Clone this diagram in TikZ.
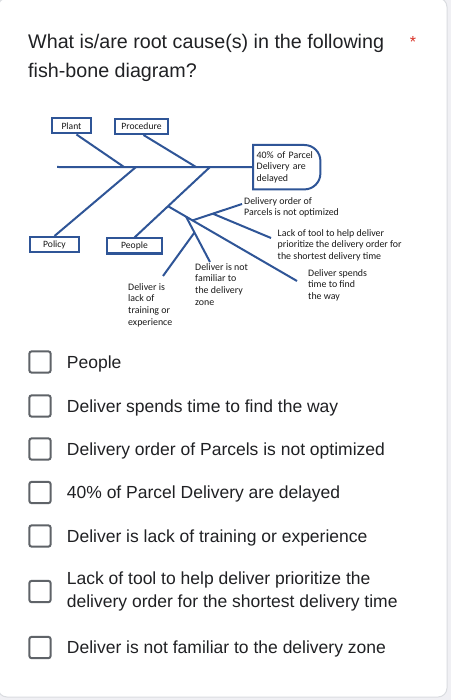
\documentclass[tikz,border=0pt]{standalone}
\usepackage{fontspec}
\setmainfont{Liberation Sans}
\newfontfamily\calibri{Carlito}
\usetikzlibrary{positioning,calc}
\definecolor{fishblue}{RGB}{47,85,151}
\definecolor{inkgray}{RGB}{25,25,25}
\definecolor{formtext}{RGB}{32,33,36}
\definecolor{boxgray}{RGB}{95,99,104}
\definecolor{redstar}{RGB}{217,48,37}
\definecolor{pagebg}{RGB}{240,240,244}
\definecolor{cardline}{RGB}{218,220,224}
\newcommand{\bone}[2]{\draw[bone] (#1) -- (#2)}
\newcommand{\tickbox}[2]{\node[chk] (#1) at (40,#2) {}}
\tikzset{
	bone/.style={draw=fishblue, line width=2pt},
	cause/.style={draw=fishblue, line width=2pt, inner sep=0pt, minimum height=15pt,
		text=inkgray, font=\calibri\fontsize{9.6}{11}\selectfont},
	twig/.style={inner sep=0pt, align=left, text=inkgray, font=\calibri\fontsize{9.9}{11.7}\selectfont},
	chk/.style={draw=boxgray, line width=2pt, rounded corners=2.5pt, minimum size=21.4pt, inner sep=0pt},
	opt/.style={inner sep=0pt, text=formtext, font=\fontsize{17.5}{23}\selectfont,
		text height=16pt, text depth=4pt},
	optlong/.style={inner sep=0pt, align=left, text=formtext, font=\fontsize{17.5}{23}\selectfont}
}

\begin{document}
\begin{tikzpicture}[x=1pt, y=-1pt]
\useasboundingbox (0,0) rectangle (451,700);
%Page and card
	\fill[pagebg] (0,0) rectangle (451,700);
	\draw[cardline, fill=white, line width=1pt, rounded corners=9pt] (-2,-2) rectangle (447,697);
%Question
	\node[anchor=north west, inner sep=0pt, align=left, text=formtext,
		font=\fontsize{19.7}{29}\selectfont] (question) at (28,33.8)
		{What is/are root cause(s) in the following\\fish-bone diagram?};
	\node[text=redstar, inner sep=0pt, font=\fontsize{16}{16}\selectfont] (star) at (413,42) {*};
%Head and spine
	\node[twig, anchor=north west, text width=60pt, inner xsep=3.5pt, minimum height=44pt] (head)
		at (253,145) {40\% of Parcel\\Delivery are\\delayed};
	\draw[bone] (head.south west) -- (head.north west) -- ([xshift=-16pt]head.north east)
		arc[start angle=90, end angle=0, radius=16pt] -- ([yshift=16pt]head.south east)
		arc[start angle=0, end angle=-90, radius=16pt] -- cycle;
	\coordinate (tail) at (57,167);
	\coordinate (plantjoint) at (124,167);
	\coordinate (policyjoint) at (136,167);
	\coordinate (procjoint) at (196,167);
	\coordinate (peoplejoint) at (210,167);
	\bone{tail}{head.west};
%Main causes
	\node[cause, minimum width=39pt] (plant) at (71.5,126) {Plant};
	\node[cause, minimum width=53pt] (procedure) at (141.5,126.5) {Procedure};
	\node[cause, minimum width=49pt] (policy) at (54.5,244.5) {Policy};
	\node[cause, minimum width=55pt] (people) at (134.5,246) {People};
	\bone{[xshift=5pt]plant.south}{plantjoint};
	\bone{[xshift=2pt]procedure.south}{procjoint};
	\bone{policyjoint}{policy.north};
	\bone{peoplejoint}{people.north};
%The People branch
	\coordinate (sub) at ($(peoplejoint)!0.556!(people.north)$);
	\coordinate (spendsend) at (297,281);
	\bone{sub}{spendsend};
	\coordinate (orderjoint) at ($(sub)!0.19!(spendsend)$);
	\coordinate (orderend) at (242,204);
	\bone{orderjoint}{orderend};
	\coordinate (tooljoint) at ($(orderjoint)!0.41!(orderend)$);
	\coordinate (toolend) at (271,238);
	\bone{tooljoint}{toolend};
	\coordinate (zonejoint) at ($(sub)!0.14!(spendsend)$);
	\coordinate (zoneend) at (210,262);
	\bone{zonejoint}{zoneend};
	\coordinate (trainjoint) at ($(zonejoint)!0.35!(zoneend)$);
	\coordinate (trainend) at (163,276);
	\bone{trainjoint}{trainend};
%Sub causes
	\node[twig, below right=-7pt and 2pt of orderend] (order) {Delivery order of\\Parcels is not optimized};
	\node[twig, below right=-9pt and 6.5pt of toolend] (tool)
		{Lack of tool to help deliver\\prioritize the delivery order for\\the shortest delivery time};
	\node[twig, below right=-12pt and 11pt of spendsend] (spends) {Deliver spends\\time to find\\the way};
	\node[twig, below right=1pt and -15pt of zoneend] (zone) {Deliver is not\\familiar to\\the delivery\\zone};
	\node[twig, below right=7pt and -35pt of trainend] (train) {Deliver is\\lack of\\training or\\experience};
%Answers
	\tickbox{box1}{362};
	\node[opt, right=15pt of box1] (ans1) {People};
	\tickbox{box2}{406};
	\node[opt, right=15pt of box2] (ans2) {Deliver spends time to find the way};
	\tickbox{box3}{449};
	\node[opt, right=15pt of box3] (ans3) {Delivery order of Parcels is not optimized};
	\tickbox{box4}{492.5};
	\node[opt, right=15pt of box4] (ans4) {40\% of Parcel Delivery are delayed};
	\tickbox{box5}{536};
	\node[opt, right=15pt of box5] (ans5) {Deliver is lack of training or experience};
	\tickbox{box6}{591.5};
	\node[optlong, right=15pt of box6] (ans6)
		{Lack of tool to help deliver prioritize the\\delivery order for the shortest delivery time};
	\tickbox{box7}{647.5};
	\node[opt, right=15pt of box7] (ans7) {Deliver is not familiar to the delivery zone};
\end{tikzpicture}
\end{document}
